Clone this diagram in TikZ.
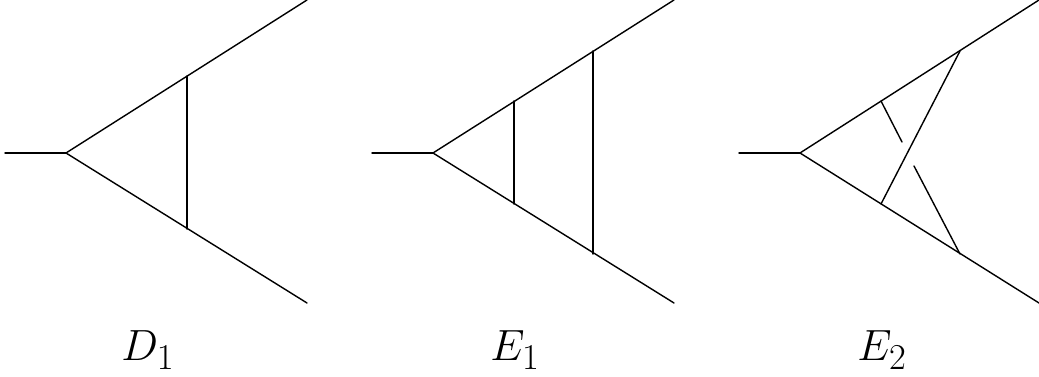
\documentclass[tikz,border=0pt]{standalone}
\usepackage{amsmath}
\usepackage{tikz}
\usetikzlibrary{positioning}

\begin{document}
\begin{tikzpicture}[
  x=0.02cm, y=-0.02cm,
  line width=0.8pt,
  every node/.style={align=center},
  leg/.style={line cap=round},
  graphname/.style={inner sep=0pt, anchor=base, font=\fontsize{28}{30}\selectfont},
]
  \useasboundingbox (0,0) rectangle (1039,377);

  % D1
  \coordinate (da) at (5,153);
  \coordinate (dv) at (66,153);
  \coordinate (du) at (307,0);
  \coordinate (dl) at (307,303);
  \coordinate (dt) at (187,76);
  \coordinate (db) at (187,229);
  \draw[leg] (da) -- (dv); \draw[leg] (dv) -- (du); \draw[leg] (dv) -- (dl);
  \draw[leg] (dt) -- (db);
  \node[graphname] (dname) at (148,361) {$D_1$};

  % E1
  \coordinate (ea) at (372,153);
  \coordinate (ev) at (433,153);
  \coordinate (eu) at (674,0);
  \coordinate (el) at (674,303);
  \coordinate (et) at (514,101);
  \coordinate (eb) at (514,204);
  \coordinate (ft) at (593,51);
  \coordinate (fb) at (593,254);
  \draw[leg] (ea) -- (ev); \draw[leg] (ev) -- (eu); \draw[leg] (ev) -- (el);
  \draw[leg] (et) -- (eb); \draw[leg] (ft) -- (fb);
  \node[graphname] (ename) at (515,361) {$E_1$};

  % E2, one rung broken where it passes the other
  \coordinate (ga) at (739,153);
  \coordinate (gv) at (800,153);
  \coordinate (gu) at (1039,0);
  \coordinate (gl) at (1039,303);
  \coordinate (gt) at (960,51);
  \coordinate (gb) at (881,204);
  \coordinate (ht) at (881,101);
  \coordinate (hm) at (902,142);
  \coordinate (hn) at (914,166);
  \coordinate (hb) at (960,254);
  \draw[leg] (ga) -- (gv); \draw[leg] (gv) -- (gu); \draw[leg] (gv) -- (gl);
  \draw[leg] (gt) -- (gb);
  \draw[leg] (ht) -- (hm); \draw[leg] (hn) -- (hb);
  \node[graphname] (gname) at (882,361) {$E_2$};
\end{tikzpicture}
\end{document}
